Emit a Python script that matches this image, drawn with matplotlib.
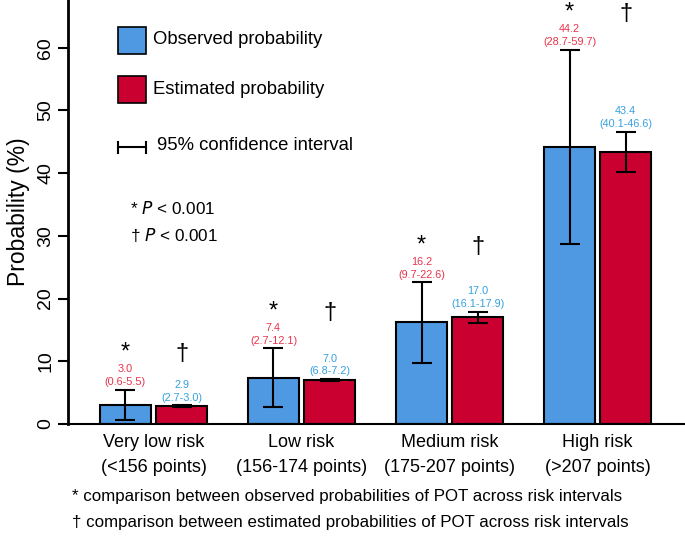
import numpy as np
import matplotlib.pyplot as plt
from matplotlib.patches import Rectangle

groups = ['Very low risk\n(<156 points)', 'Low risk\n(156-174 points)',
          'Medium risk\n(175-207 points)', 'High risk\n(>207 points)']
observed = [3.0, 7.4, 16.2, 44.2]
observed_lo = [0.6, 2.7, 9.7, 28.7]
observed_hi = [5.5, 12.1, 22.6, 59.7]
estimated = [2.9, 7.0, 17.0, 43.4]
estimated_lo = [2.7, 6.8, 16.1, 40.1]
estimated_hi = [3.0, 7.2, 17.9, 46.6]

blue = '#4e99e2'
red = '#c90030'
txt_red = '#e8334a'
txt_blue = '#35a0e0'
plt.rcParams['font.family'] = ['Liberation Sans', 'DejaVu Sans']

fig = plt.figure(figsize=(6.85, 5.38), dpi=100)
ax = fig.add_axes([68 / 685, 1 - 424 / 538, 617 / 685, 424 / 538])

x = np.arange(len(groups))
w = 0.345
off = 0.19
obs = np.array(observed)
est = np.array(estimated)
obs_err = [obs - np.array(observed_lo), np.array(observed_hi) - obs]
est_err = [est - np.array(estimated_lo), np.array(estimated_hi) - est]

ax.bar(x - off, obs, w, color=blue, edgecolor='black', linewidth=1.5, zorder=2)
ax.bar(x + off, est, w, color=red, edgecolor='black', linewidth=1.5, zorder=2)
ax.errorbar(x - off, obs, yerr=obs_err, fmt='none', ecolor='black', elinewidth=1.5,
            capsize=7.5, capthick=1.5, zorder=3)
ax.errorbar(x + off, est, yerr=est_err, fmt='none', ecolor='black', elinewidth=1.5,
            capsize=7.5, capthick=1.5, zorder=3)

for i in range(len(groups)):
    ax.text(x[i] - off, observed_hi[i] + 0.4, f'{observed[i]:.1f}\n({observed_lo[i]}-{observed_hi[i]})',
            ha='center', va='bottom', color=txt_red, fontsize=7.8, linespacing=1.35)
    ax.text(x[i] + off, estimated_hi[i] + 0.4, f'{estimated[i]:.1f}\n({estimated_lo[i]}-{estimated_hi[i]})',
            ha='center', va='bottom', color=txt_blue, fontsize=7.8, linespacing=1.35)
    ax.text(x[i] - off, observed_hi[i] + 4.1, '*', ha='center', va='bottom', fontsize=17)
    ax.text(x[i] + off, observed_hi[i] + 3.9, '\u2020', ha='center', va='bottom', fontsize=17)

ax.set_xlim(-0.578, 3.59)
ax.set_ylim(0, 67.6)
ax.set_yticks(range(0, 70, 10))
ax.set_xticks(x)
ax.set_xticklabels(groups, fontsize=13, linespacing=1.65)
ax.tick_params(axis='x', length=0, pad=7)
ax.tick_params(axis='y', length=7, width=1.5, labelsize=14, pad=3)
for lab in ax.get_yticklabels():
    lab.set_rotation(90)
    lab.set_va('center')
ax.spines['top'].set_visible(False)
ax.spines['right'].set_visible(False)
ax.spines['left'].set_linewidth(2)
ax.spines['bottom'].set_linewidth(1.5)
ax.set_ylabel('Probability (%)', fontsize=16.5, labelpad=5)

# legend drawn by hand
ax.add_patch(Rectangle((0.081, 0.873), 0.045, 0.063, transform=ax.transAxes,
                       facecolor=blue, edgecolor='black', linewidth=1.2))
ax.add_patch(Rectangle((0.081, 0.757), 0.045, 0.064, transform=ax.transAxes,
                       facecolor=red, edgecolor='black', linewidth=1.2))
ax.plot([0.081, 0.126], [0.653, 0.653], color='black', lw=1.5, transform=ax.transAxes)
ax.plot([0.081, 0.081], [0.640, 0.666], color='black', lw=1.5, transform=ax.transAxes)
ax.plot([0.126, 0.126], [0.640, 0.666], color='black', lw=1.5, transform=ax.transAxes)
ax.text(0.138, 0.906, 'Observed probability', transform=ax.transAxes, va='center',
        fontsize=13.3)
ax.text(0.138, 0.790, 'Estimated probability', transform=ax.transAxes, va='center',
        fontsize=13.3)
ax.text(0.144, 0.658, '95% confidence interval', transform=ax.transAxes, va='center',
        fontsize=13.3)
ax.text(0.100, 0.509, '* $\\it{P}$ < 0.001', transform=ax.transAxes, va='center',
        fontsize=12.3)
ax.text(0.100, 0.446, '\u2020 $\\it{P}$ < 0.001', transform=ax.transAxes, va='center',
        fontsize=12.3)

fig.text(72 / 685, 1 - 496 / 538, '* comparison between observed probabilities of POT across risk intervals',
         va='center', fontsize=12.2)
fig.text(72 / 685, 1 - 522 / 538, '\u2020 comparison between estimated probabilities of POT across risk intervals',
         va='center', fontsize=12.2)

fig.savefig('out.png', dpi=100)
